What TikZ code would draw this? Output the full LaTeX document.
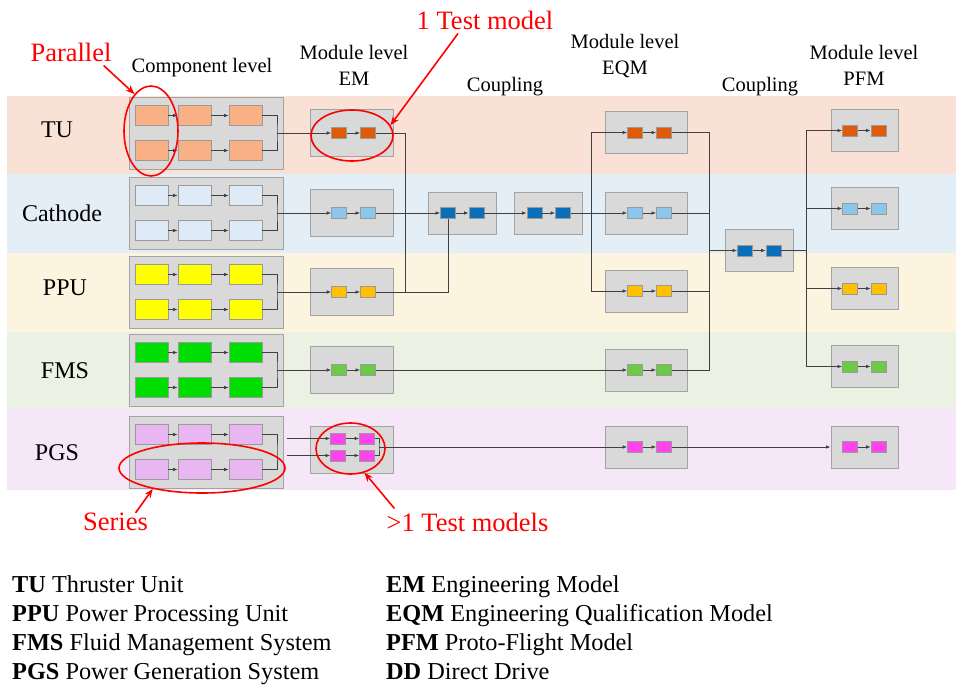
\documentclass[tikz,border=0pt]{standalone}
\usepackage{fontspec}
\setmainfont{Liberation Serif}
\usepackage{tikz}
\usetikzlibrary{arrows.meta}
\usetikzlibrary{shapes.geometric}
% colours
\definecolor{bandTU}{HTML}{F9E2D5}
\definecolor{bandCa}{HTML}{E4EEF7}
\definecolor{bandPP}{HTML}{FDF4E0}
\definecolor{bandFM}{HTML}{EBF2E4}
\definecolor{bandPG}{HTML}{F5E7F7}
\definecolor{grpfill}{HTML}{D9D9D9}
\definecolor{grpline}{HTML}{A3A3A3}
\definecolor{sbline}{HTML}{9A9A9A}
\definecolor{wirecol}{HTML}{404040}
\definecolor{cTU}{HTML}{F8B084}
\definecolor{cCa}{HTML}{DEEBF7}
\definecolor{cPP}{HTML}{FFFF00}
\definecolor{cFM}{HTML}{00DD00}
\definecolor{cPG}{HTML}{E8B7F2}
\definecolor{mTU}{HTML}{E05A0C}
\definecolor{mCa}{HTML}{8CC6EA}
\definecolor{mPP}{HTML}{FFC000}
\definecolor{mFM}{HTML}{6CCB45}
\definecolor{mPG}{HTML}{FF44EE}
\definecolor{mCp}{HTML}{0A6FB8}
\tikzset{
  grp/.style={draw=grpline, fill=grpfill, line width=0.9pt, inner sep=0pt},
  cbox/.style={draw=sbline, line width=0.6pt, minimum width=33pt, minimum height=20pt, inner sep=0pt},
  mbox/.style={draw=sbline, line width=0.6pt, minimum width=15pt, minimum height=11pt, inner sep=0pt},
  wire/.style={draw=wirecol, line width=0.8pt},
  flow/.style={wire, ->},
  redline/.style={draw=red, line width=1.6pt},
  redarr/.style={redline, -{Stealth[length=9pt,width=7pt]}},
  hdr/.style={font=\fontsize{20.5}{26}\selectfont, align=center, inner sep=0pt},
  rowlab/.style={font=\fontsize{24}{28}\selectfont, inner sep=0pt},
  redlab/.style={text=red, font=\fontsize{26.5}{30}\selectfont, inner sep=0pt},
  legtxt/.style={font=\fontsize{24.3}{29}\selectfont, inner sep=0pt, anchor=base west}
}

\begin{document}
\begin{tikzpicture}[x=1pt, y=-1pt, >={Latex[length=4.5pt,width=3.5pt]}]
	\fill[white] (0,0) rectangle (956,686);
	\useasboundingbox (0,0) rectangle (956,686);
	% bands
	\foreach \n/\ya/\yb in {TU/96/174, Ca/174/253, PP/253/332, FM/332/409, PG/409/490}
		\fill[band\n] (7,\ya) rectangle (956,\yb);
	% headers
	\node[hdr] (hComp) at (202,68) {Component level};
	\node[hdr] (hEM) at (354,65) {Module level\\EM};
	\node[hdr] (hCpA) at (505,87) {Coupling};
	\node[hdr] (hEQM) at (625,56) {Module level\\EQM};
	\node[hdr] (hCpB) at (760,87) {Coupling};
	\node[hdr] (hPFM) at (864,65) {Module level\\PFM};
	% row labels
	\node[rowlab] (lTU) at (57,130) {TU};
	\node[rowlab] (lCa) at (62,213) {Cathode};
	\node[rowlab] (lPP) at (65,288) {PPU};
	\node[rowlab] (lFM) at (65,371) {FMS};
	\node[rowlab] (lPG) at (57,453) {PGS};
	% component level
	\foreach \n/\y in {TU/133, Ca/213, PP/292, FM/370, PG/452} {
		\node[grp, minimum width=154pt, minimum height=72pt] (comp\n) at (206,\y) {};
		\foreach \r/\dy in {1/-17.5, 2/17.5} {
			\node[cbox, fill=c\n] (c\n-\r-1) at (151.5,\y+\dy) {};
			\node[cbox, fill=c\n] (c\n-\r-2) at (194.5,\y+\dy) {};
			\node[cbox, fill=c\n] (c\n-\r-3) at (245.5,\y+\dy) {};
			\draw[flow] (c\n-\r-1) -- (c\n-\r-2);
			\draw[flow] (c\n-\r-2) -- (c\n-\r-3);
		}
		\coordinate (br\n) at (277,\y);
		\draw[wire] (c\n-1-3.east) -| (br\n) |- (c\n-2-3.east);
	}
	% module level EM
	\foreach \n/\y in {TU/133, Ca/213, PP/292, FM/370} {
		\node[grp, minimum width=83pt, minimum height=47pt] (em\n) at (351.5,\y) {};
		\node[mbox, fill=m\n] (em\n-1) at (339,\y) {};
		\node[mbox, fill=m\n] (em\n-2) at (368,\y) {};
		\draw[flow] (em\n-1) -- (em\n-2);
		\draw[flow] (br\n) -- (em\n-1);
	}
	\node[grp, minimum width=83pt, minimum height=47pt] (emPG) at (351.5,449.5) {};
	\node[mbox, fill=mPG] (emPG-a1) at (338,438.5) {};
	\node[mbox, fill=mPG] (emPG-a2) at (367,438.5) {};
	\node[mbox, fill=mPG] (emPG-b1) at (338,455.5) {};
	\node[mbox, fill=mPG] (emPG-b2) at (367,455.5) {};
	\coordinate (oPGa) at (287,438.5);
	\coordinate (oPGb) at (287,455.5);
	\coordinate (brEm) at (379,447);
	\draw[flow] (oPGa) -- (emPG-a1);
	\draw[flow] (oPGb) -- (emPG-b1);
	\draw[flow] (emPG-a1) -- (emPG-a2);
	\draw[flow] (emPG-b1) -- (emPG-b2);
	\draw[wire] (emPG-a2.east) -| (brEm) |- (emPG-b2.east);
	% coupling
	\foreach \n/\x/\y in {A/462/213, B/548.5/213, C/759/250.5} {
		\node[grp, minimum width=68pt, minimum height=42pt] (cp\n) at (\x,\y) {};
		\node[mbox, fill=mCp] (cp\n-1) at (\x-14,\y) {};
		\node[mbox, fill=mCp] (cp\n-2) at (\x+14.5,\y) {};
		\draw[flow] (cp\n-1) -- (cp\n-2);
	}
	% module level EQM
	\foreach \n/\y in {TU/132.5, Ca/213, PP/291, FM/370, PG/447} {
		\node[grp, minimum width=82pt, minimum height=42pt] (eq\n) at (646,\y) {};
		\node[mbox, fill=m\n] (eq\n-1) at (635,\y) {};
		\node[mbox, fill=m\n] (eq\n-2) at (664,\y) {};
		\draw[flow] (eq\n-1) -- (eq\n-2);
	}
	% module level PFM
	\foreach \n/\y in {TU/130.5, Ca/208.5, PP/288.5, FM/366.5, PG/447} {
		\node[grp, minimum width=67pt, minimum height=42pt] (pf\n) at (864.5,\y) {};
		\node[mbox, fill=m\n] (pf\n-1) at (850,\y) {};
		\node[mbox, fill=m\n] (pf\n-2) at (878.5,\y) {};
		\draw[flow] (pf\n-1) -- (pf\n-2);
	}
	% EM to coupling
	\coordinate (jA) at (405,213);
	\draw[wire] (emTU-2.east) -| (jA);
	\draw[wire] (emCa-2.east) -- (jA);
	\draw[wire] (jA) |- (emPP-2.east);
	\draw[wire] (emPP-2.east) -| (cpA-1.south);
	\draw[flow] (jA) -- (cpA-1);
	\draw[flow] (cpA-2) -- (cpB-1);
	% coupling to EQM
	\coordinate (jB) at (591,213);
	\draw[wire] (cpB-2.east) -- (jB);
	\draw[flow] (jB) -- (eqCa-1);
	\draw[flow] (jB) |- (eqTU-1);
	\draw[flow] (jB) |- (eqPP-1);
	\draw[flow] (emFM-2) -- (eqFM-1);
	\draw[flow] (brEm) -- (eqPG-1);
	% EQM to PFM
	\coordinate (jC) at (709,250.5);
	\draw[wire] (eqTU-2.east) -| (jC);
	\draw[wire] (eqCa-2.east) -| (jC);
	\draw[wire] (eqPP-2.east) -| (jC);
	\draw[wire] (eqFM-2.east) -| (jC);
	\draw[flow] (jC) -- (cpC-1);
	\coordinate (jD) at (806,250.5);
	\draw[wire] (cpC-2.east) -- (jD);
	\foreach \n in {TU, Ca, PP, FM}
		\draw[flow] (jD) |- (pf\n-1);
	\draw[flow] (eqPG-2) -- (pfPG);
	% red notes
	\node[ellipse, redline, minimum width=54pt, minimum height=90pt, inner sep=0pt] (parEll) at (151,131) {};
	\node[redlab] (parTxt) at (71,52) {Parallel};
	\draw[redarr] ([shift={(-8pt,-4pt)}]parTxt.south east) -- (parEll.114);
	\node[ellipse, redline, minimum width=82pt, minimum height=51pt, inner sep=0pt] (tmEll) at (352,135.5) {};
	\node[redlab] (tmTxt) at (485,20) {1 Test model};
	\draw[redarr] ([shift={(-27pt,-4pt)}]tmTxt.south) -- (tmEll.15);
	\node[ellipse, redline, minimum width=166pt, minimum height=50pt, inner sep=0pt] (serEll) at (202,468) {};
	\node[redlab] (serTxt) at (115.5,522) {Series};
	\draw[redarr] ([xshift=20pt]serTxt.north) -- (serEll.203);
	\node[ellipse, redline, minimum width=69pt, minimum height=51pt, inner sep=0pt] (gtEll) at (350.5,448.5) {};
	\node[redlab] (gtTxt) at (467.5,522) {>1 Test models};
	\draw[redarr] ([shift={(8pt,4pt)}]gtTxt.north west) -- (gtEll.300);
	% legend
	\foreach \i/\y/\a/\b in {1/592/TU/Thruster Unit, 2/621/PPU/Power Processing Unit, 3/650/FMS/Fluid Management System, 4/679/PGS/Power Generation System}
		\node[legtxt] (lgL\i) at (12,\y) {\textbf{\a} \b};
	\foreach \i/\y/\a/\b in {1/592/EM/Engineering Model, 2/621/EQM/Engineering Qualification Model, 3/650/PFM/Proto-Flight Model, 4/679/DD/Direct Drive}
		\node[legtxt] (lgR\i) at (386,\y) {\textbf{\a} \b};
\end{tikzpicture}
\end{document}
